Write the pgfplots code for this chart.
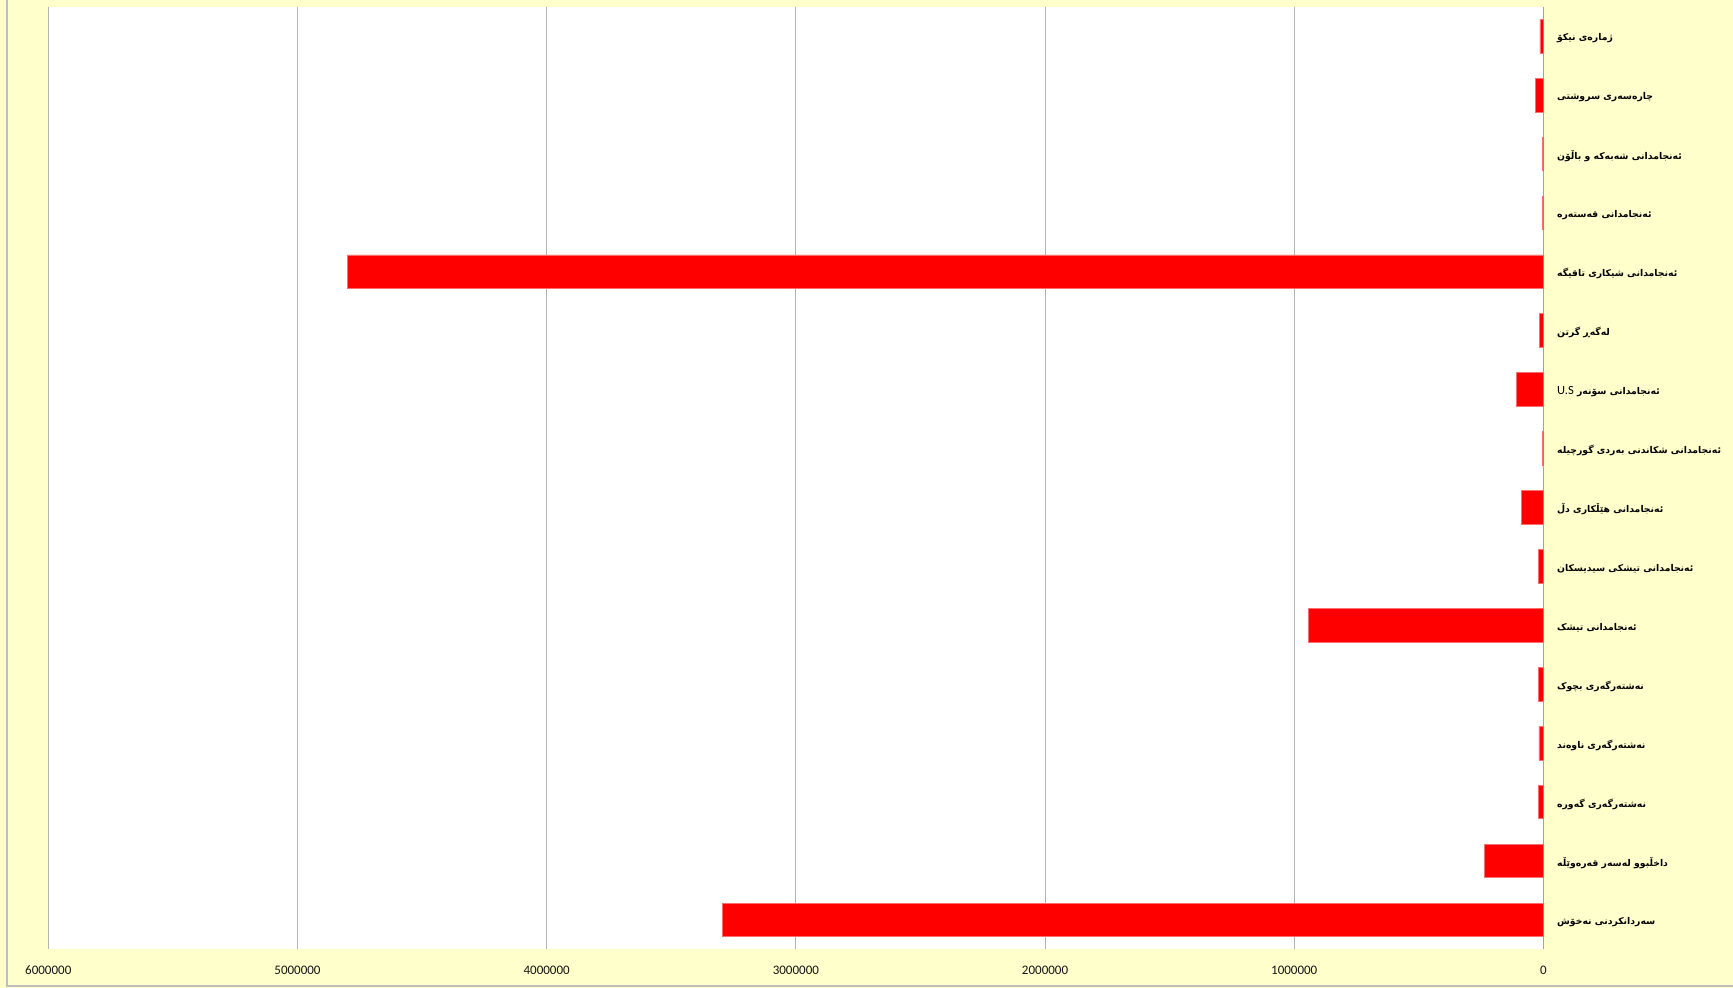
\documentclass[border=0pt]{standalone}
\usepackage{pgfplots}
\pgfplotsset{compat=1.18}
\usepackage{fontspec}
\setmainfont{Carlito}
\newfontfamily\arabicfont[Script=Arabic]{DejaVu Sans}
\TeXXeTstate=1
\definecolor{bgyellow}{RGB}{255,255,204}
\definecolor{gridgray}{RGB}{180,180,180}
\definecolor{axisgray}{RGB}{134,134,134}
\definecolor{bordergray}{RGB}{190,190,190}
\definecolor{barred}{RGB}{255,0,0}
\definecolor{baredge}{RGB}{255,110,110}
\definecolor{txt}{RGB}{20,20,20}
\begin{document}
\begin{tikzpicture}[x=1pt,y=1pt]
\fill[bgyellow] (0,0) rectangle (1733,988);
\useasboundingbox (0,0) rectangle (1733,988);
\draw[bordergray, line width=2pt] (6.7,988) -- (6.7,2) -- (1733,2);
\begin{axis}[
  at={(48.3pt,38.7pt)}, anchor=south west,
  scale only axis, width=1495.2pt, height=942.6pt,
  xbar, bar width=33.7pt,
  x dir=reverse, y dir=reverse,
  xmin=0, xmax=6000000, ymin=-0.5, ymax=15.5,
  axis background/.style={fill=white},
  axis line style={draw=none},
  major tick length=0pt, tick style={draw=none},
  xmajorgrids, grid style={gridgray, line width=1pt},
  scaled x ticks=false,
  xtick={0,1000000,2000000,3000000,4000000,5000000,6000000},
  xticklabels={0,1000000,2000000,3000000,4000000,5000000,6000000},
  xticklabel style={font=\fontsize{13}{15}\selectfont, text=txt, anchor=base, inner sep=0pt, yshift=-25pt},
  ytick={0,...,15},
  yticklabel pos=right,
  yticklabel style={font=\arabicfont\bfseries\fontsize{9.3}{11}\selectfont, text=black, anchor=west, inner sep=0pt, xshift=13.5pt, yshift=-2pt},
  yticklabels={
    {\beginR ژمارەی نیکۆ\endR},
    {\beginR چارەسەری سروشتی\endR},
    {\beginR ئەنجامدانی شەبەکە و باڵۆن\endR},
    {\beginR ئەنجامدانی قەستەرە\endR},
    {\beginR ئەنجامدانی شیکاری تاقیگە\endR},
    {\beginR لەگەڕ گرتن\endR},
    {\beginR ئەنجامدانی سۆنەر \beginL{\fontspec{Carlito}\mdseries\fontsize{12.5}{14}\selectfont U.S}\endL\endR},
    {\beginR ئەنجامدانی شکاندنی بەردی گورچیلە\endR},
    {\beginR ئەنجامدانی هێڵکاری دڵ\endR},
    {\beginR ئەنجامدانی تیشکی سیدیسکان\endR},
    {\beginR ئەنجامدانی تیشک\endR},
    {\beginR نەشتەرگەری بچوک\endR},
    {\beginR نەشتەرگەری ناوەند\endR},
    {\beginR نەشتەرگەری گەورە\endR},
    {\beginR داخڵبوو لەسەر قەرەوێڵە\endR},
    {\beginR سەردانکردنی نەخۆش\endR}
  },
]
\addplot[fill=barred, draw=baredge, line width=0.8pt] coordinates {
  (14000,0) (31000,1) (4000,2) (4000,3) (4800000,4) (17000,5)
  (110000,6) (4000,7) (87000,8) (21000,9) (943000,10) (21000,11)
  (18000,12) (21000,13) (237000,14) (3295000,15)
};
\draw[axisgray, line width=1.3pt] (axis cs:0,-0.5) -- (axis cs:0,15.5);
\end{axis}
\end{tikzpicture}
\end{document}
